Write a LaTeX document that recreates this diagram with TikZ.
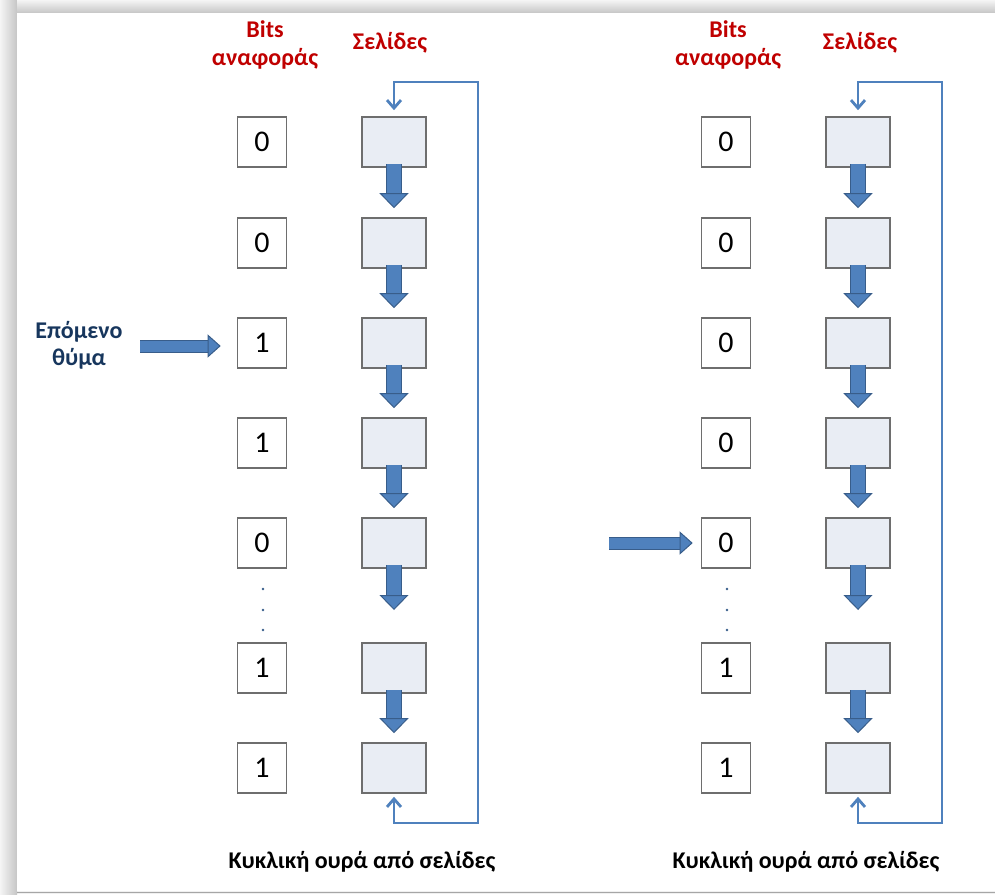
\documentclass[tikz,border=0pt]{standalone}
\usepackage{fontspec}
\setmainfont{Carlito}
\usepackage{tikz}
\usetikzlibrary{arrows.meta}
\definecolor{hdrred}{RGB}{192,0,0}
\definecolor{victimblue}{RGB}{23,54,93}
\definecolor{arrowblue}{RGB}{79,129,189}
\definecolor{arrowdark}{RGB}{56,93,138}
\definecolor{pagefill}{RGB}{233,237,244}
\definecolor{boxgray}{RGB}{110,110,110}

\begin{document}
\begin{tikzpicture}[x=1pt,y=-1pt,
            bitbox/.style={draw=boxgray,line width=1.6pt,fill=white,minimum width=49pt,minimum height=50pt,inner sep=0pt,font=\fontsize{30}{32}\selectfont},
            pagebox/.style={draw=boxgray,line width=1.6pt,fill=pagefill,minimum width=64pt,minimum height=50pt,inner sep=0pt},
            headtext/.style={text=hdrred,font=\bfseries\fontsize{24}{28}\selectfont,align=center},
            captext/.style={font=\bfseries\fontsize{24}{28}\selectfont},
            pagearrow/.style={draw=arrowblue,line width=14pt,-{Triangle[width=29pt,length=15pt,line width=1pt,color=arrowdark,fill=arrowblue]},preaction={draw=arrowdark,line width=16pt,-,shorten >=15pt}},
            sidearrow/.style={draw=arrowblue,line width=11pt,-{Triangle[width=23pt,length=13pt,line width=1pt,color=arrowdark,fill=arrowblue]},preaction={draw=arrowdark,line width=13pt,-,shorten >=13pt}},
            loopline/.style={draw=arrowblue,line width=2.8pt,{Straight Barb[length=8pt,width=14pt]}-{Straight Barb[length=8pt,width=14pt]}}]
            % frame
            \useasboundingbox (0,0) rectangle (995,894);
            \fill[gray!12] (0,0) rectangle (995,894);
            \shade[left color=gray!8,right color=gray!45] (0,0) rectangle (17,894);
            \shade[top color=gray!8,bottom color=gray!45] (17,0) rectangle (995,13);
            \fill[white] (17,13) rectangle (995,891);
            \draw[gray!70,line width=1pt] (17,892) -- (995,892);

            % left queue
            \node (lh1) at (265,45)[headtext]{Bits\\αναφοράς};
            \node (lh2) at (390,43)[headtext]{Σελίδες};
            \node (lb1) at (262,142)[bitbox]{0};
            \node (lb2) at (262,243)[bitbox]{0};
            \node (lb3) at (262,343)[bitbox]{1};
            \node (lb4) at (262,443)[bitbox]{1};
            \node (lb5) at (262,543)[bitbox]{0};
            \node (lb6) at (262,668)[bitbox]{1};
            \node (lb7) at (262,768)[bitbox]{1};
            \node (lp1) at (394,142)[pagebox]{};
            \node (lp2) at (394,243)[pagebox]{};
            \node (lp3) at (394,343)[pagebox]{};
            \node (lp4) at (394,443)[pagebox]{};
            \node (lp5) at (394,543)[pagebox]{};
            \node (lp6) at (394,668)[pagebox]{};
            \node (lp7) at (394,768)[pagebox]{};
            \fill[arrowdark] (263,589) circle (1.3) (263,610) circle (1.3) (263,630) circle (1.3);
            \coordinate (ld) at (394,610);
            \draw [pagearrow] ([yshift=4pt]lp1.south)--([yshift=9pt]lp2.north);
            \draw [pagearrow] ([yshift=4pt]lp2.south)--([yshift=9pt]lp3.north);
            \draw [pagearrow] ([yshift=4pt]lp3.south)--([yshift=9pt]lp4.north);
            \draw [pagearrow] ([yshift=4pt]lp4.south)--([yshift=9pt]lp5.north);
            \draw [pagearrow] ([yshift=4pt]lp5.south)--(ld);
            \draw [pagearrow] ([yshift=4pt]lp6.south)--([yshift=9pt]lp7.north);
            \coordinate (lc1) at (478,823);
            \coordinate (lc2) at (478,82);
            \draw [loopline] ([yshift=-3pt]lp7.south) |- (lc1) -- (lc2) -| ([yshift=6pt]lp1.north);
            \node (victim) at (79,345)[text=victimblue,font=\bfseries\fontsize{24}{27}\selectfont,align=center]{Επόμενο\\θύμα};
            \coordinate (lv) at (140,346);
            \draw [sidearrow] (lv)--([xshift=-16pt]lb3.west |- lv);
            \node (lcap) at (362,862)[captext]{Κυκλική ουρά από σελίδες};

            % right queue
            \node (rh1) at (728,45)[headtext]{Bits\\αναφοράς};
            \node (rh2) at (860,43)[headtext]{Σελίδες};
            \node (rb1) at (726,142)[bitbox]{0};
            \node (rb2) at (726,243)[bitbox]{0};
            \node (rb3) at (726,343)[bitbox]{0};
            \node (rb4) at (726,443)[bitbox]{0};
            \node (rb5) at (726,543)[bitbox]{0};
            \node (rb6) at (726,668)[bitbox]{1};
            \node (rb7) at (726,768)[bitbox]{1};
            \node (rp1) at (858,142)[pagebox]{};
            \node (rp2) at (858,243)[pagebox]{};
            \node (rp3) at (858,343)[pagebox]{};
            \node (rp4) at (858,443)[pagebox]{};
            \node (rp5) at (858,543)[pagebox]{};
            \node (rp6) at (858,668)[pagebox]{};
            \node (rp7) at (858,768)[pagebox]{};
            \fill[arrowdark] (727,589) circle (1.3) (727,610) circle (1.3) (727,630) circle (1.3);
            \coordinate (rd) at (858,610);
            \draw [pagearrow] ([yshift=4pt]rp1.south)--([yshift=9pt]rp2.north);
            \draw [pagearrow] ([yshift=4pt]rp2.south)--([yshift=9pt]rp3.north);
            \draw [pagearrow] ([yshift=4pt]rp3.south)--([yshift=9pt]rp4.north);
            \draw [pagearrow] ([yshift=4pt]rp4.south)--([yshift=9pt]rp5.north);
            \draw [pagearrow] ([yshift=4pt]rp5.south)--(rd);
            \draw [pagearrow] ([yshift=4pt]rp6.south)--([yshift=9pt]rp7.north);
            \coordinate (rc1) at (942,823);
            \coordinate (rc2) at (942,82);
            \draw [loopline] ([yshift=-3pt]rp7.south) |- (rc1) -- (rc2) -| ([yshift=6pt]rp1.north);
            \coordinate (rv) at (609,543);
            \draw [sidearrow] (rv)--([xshift=-8pt]rb5.west);
            \node (rcap) at (806,862)[captext]{Κυκλική ουρά από σελίδες};
        \end{tikzpicture}
\end{document}
